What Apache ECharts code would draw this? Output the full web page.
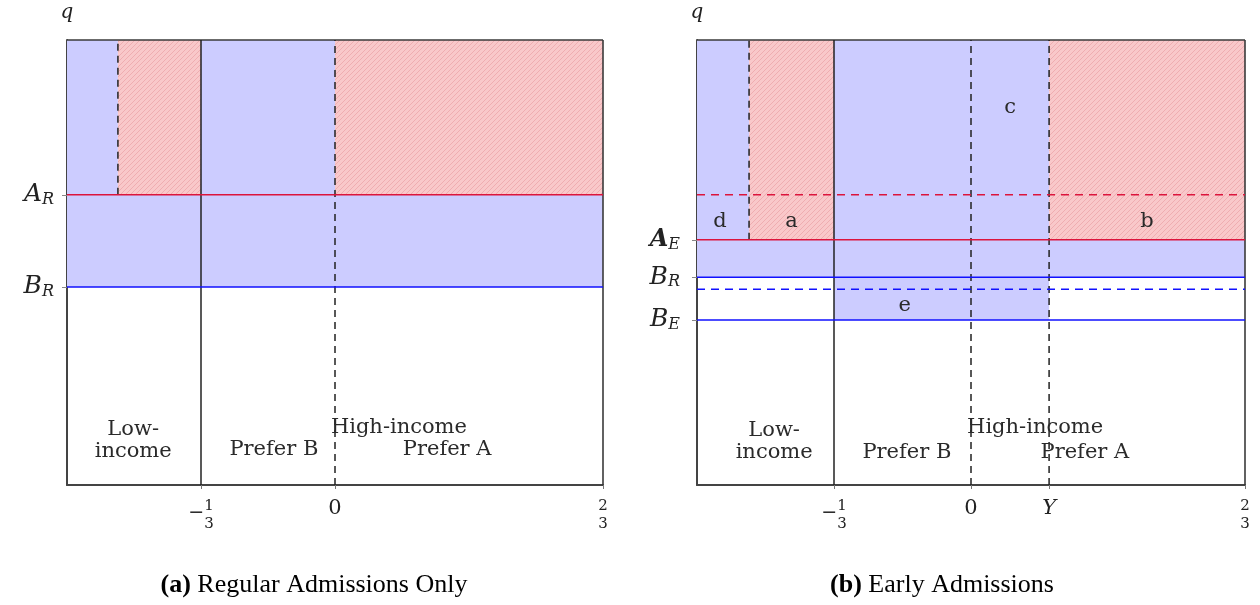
<!DOCTYPE html>
<html lang="en" style="height: 100%">
<head>
    <meta charset="utf-8">
    <script type="text/javascript" src="https://cdn.jsdelivr.net/npm/echarts@6/dist/echarts.min.js"></script>
</head>
<body style="height: 100%; margin: 0">
    <div id="main" style="width: 1260px; height: 605px"></div>
    <script type="text/javascript">
        // shared ranges
        var xRange = [-2 / 3, 2 / 3];
        var yRange = [0, 1];
        var lowCut = -0.54;      // dashed split inside low-income band

        // ---- panel (a) regular admissions ----
        var xTicksA = [-1 / 3, 0, 2 / 3];
        var xTickTextA = ['-1/3', '0', '2/3'];
        var yTicksA = [0.652, 0.445];
        var yTickTextA = ['A_R', 'B_R'];
        // x0, x1, y0, y1, kind (0 = blue, 1 = red hatch)
        var rectsA = [
            [-2 / 3, lowCut, 0.652, 1, 0],
            [lowCut, -1 / 3, 0.652, 1, 1],
            [-1 / 3, 0, 0.652, 1, 0],
            [0, 2 / 3, 0.652, 1, 1],
            [-2 / 3, 2 / 3, 0.445, 0.652, 0]
        ];
        // x0, y0, x1, y1, kind
        var linesA = [
            [-2 / 3, 1, 2 / 3, 1, 'frame'],
            [2 / 3, 0, 2 / 3, 1, 'frame'],
            [-1 / 3, 0, -1 / 3, 1, 'black'],
            [lowCut, 0.652, lowCut, 1, 'blackDash'],
            [0, 0, 0, 1, 'blackDash'],
            [-2 / 3, 0.652, 2 / 3, 0.652, 'red'],
            [-2 / 3, 0.445, 2 / 3, 0.445, 'blue']
        ];
        var textsA = [
            [-0.502, 0.099, 'Low-\nincome'],
            [-0.152, 0.079, 'Prefer B'],
            [0.159, 0.130, 'High-income'],
            [0.279, 0.079, 'Prefer A']
        ];

        // ---- panel (b) early admissions ----
        var yVal = 0.19;
        var xTicksB = [-1 / 3, 0, yVal, 2 / 3];
        var xTickTextB = ['-1/3', '0', 'Y', '2/3'];
        var yTicksB = [0.551, 0.467, 0.371];
        var yTickTextB = ['A_E', 'B_R', 'B_E'];
        var yTickBoldB = [true, false, false];
        var rectsB = [
            [-2 / 3, lowCut, 0.551, 1, 0],
            [lowCut, -1 / 3, 0.551, 1, 1],
            [-1 / 3, yVal, 0.551, 1, 0],
            [yVal, 2 / 3, 0.551, 1, 1],
            [-2 / 3, 2 / 3, 0.467, 0.551, 0],
            [-1 / 3, yVal, 0.371, 0.467, 0]
        ];
        var linesB = [
            [-2 / 3, 1, 2 / 3, 1, 'frame'],
            [2 / 3, 0, 2 / 3, 1, 'frame'],
            [-1 / 3, 0, -1 / 3, 1, 'black'],
            [lowCut, 0.551, lowCut, 1, 'blackDash'],
            [0, 0, 0, 1, 'blackDash'],
            [yVal, 0, yVal, 1, 'blackDash'],
            [-2 / 3, 0.652, 2 / 3, 0.652, 'redDash'],
            [-2 / 3, 0.551, 2 / 3, 0.551, 'red'],
            [-2 / 3, 0.467, 2 / 3, 0.467, 'blue'],
            [-2 / 3, 0.440, 2 / 3, 0.440, 'blueDash'],
            [-2 / 3, 0.371, 2 / 3, 0.371, 'blue']
        ];
        var textsB = [
            [-0.437, 0.591, 'a'],
            [0.428, 0.591, 'b'],
            [0.095, 0.849, 'c'],
            [-0.611, 0.591, 'd'],
            [-0.161, 0.404, 'e'],
            [-0.479, 0.097, 'Low-\nincome'],
            [-0.156, 0.072, 'Prefer B'],
            [0.156, 0.128, 'High-income'],
            [0.277, 0.072, 'Prefer A']
        ];

        var serif = '"DejaVu Serif", serif';
        var blueFill = '#ccccff';

        // diagonal hatch for the red areas
        var hatch = document.createElement('canvas');
        hatch.width = 5;
        hatch.height = 5;
        var hctx = hatch.getContext('2d');
        hctx.fillStyle = '#f9c8ca';
        hctx.fillRect(0, 0, 5, 5);
        hctx.strokeStyle = '#efadb1';
        hctx.lineWidth = 1;
        hctx.beginPath();
        hctx.moveTo(-1, 6); hctx.lineTo(6, -1);
        hctx.moveTo(-1, 1); hctx.lineTo(1, -1);
        hctx.moveTo(4, 6); hctx.lineTo(6, 4);
        hctx.stroke();
        var redFill = { image: hatch, repeat: 'repeat' };

        var lineStyles = {
            frame: { stroke: '#3a3a3a', lineWidth: 1.6 },
            black: { stroke: '#222', lineWidth: 1.5 },
            blackDash: { stroke: '#222', lineWidth: 1.5, lineDash: [7, 5] },
            red: { stroke: '#dc143c', lineWidth: 1.5 },
            redDash: { stroke: '#dc143c', lineWidth: 1.5, lineDash: [8, 6] },
            blue: { stroke: '#1010ff', lineWidth: 1.5 },
            blueDash: { stroke: '#1010ff', lineWidth: 1.5, lineDash: [8, 6] }
        };

        function nearest(list, v) {
            var best = 0;
            for (var i = 1; i < list.length; i++) {
                if (Math.abs(list[i] - v) < Math.abs(list[best] - v)) best = i;
            }
            return best;
        }

        function xTickLabel(txt) {
            if (txt.indexOf('/') >= 0) {
                var neg = txt.charAt(0) === '-';
                var parts = txt.replace('-', '').split('/');
                if (neg) {
                    return '{neg|−}{num|' + parts[0] + '}\n{negh|−}{num|' + parts[1] + '}';
                }
                return '{num|' + parts[0] + '}\n{num|' + parts[1] + '}';
            }
            if (/^[A-Za-z]$/.test(txt)) return '{it|' + txt + '}';
            return '{big|' + txt + '}';
        }

        function yTickLabel(txt, bold) {
            var p = txt.split('_');
            return '{' + (bold ? 'mb' : 'm') + '|' + p[0] + '}{s|' + p[1] + '}';
        }

        function xAxisFor(gridIndex, ticks, texts) {
            return {
                type: 'value', gridIndex: gridIndex,
                min: xRange[0], max: xRange[1],
                splitLine: { show: false },
                axisLine: { onZero: false, lineStyle: { color: '#444', width: 2 } },
                axisTick: { customValues: ticks, length: 4, lineStyle: { color: '#777' } },
                axisLabel: {
                    customValues: ticks, margin: 12, color: '#222',
                    formatter: function (v) { return xTickLabel(texts[nearest(ticks, v)]); },
                    rich: {
                        num: { fontFamily: serif, fontSize: 15, lineHeight: 18, color: '#222' },
                        neg: { fontFamily: serif, fontSize: 19, lineHeight: 2, padding: [15, 0, 0, 0], color: '#222' },
                        negh: { fontFamily: serif, fontSize: 19, lineHeight: 2, color: 'rgba(0,0,0,0)' },
                        big: { fontFamily: serif, fontSize: 21, lineHeight: 24, color: '#222' },
                        it: { fontFamily: serif, fontStyle: 'italic', fontSize: 21, lineHeight: 24, color: '#222' }
                    }
                }
            };
        }

        function yAxisFor(gridIndex, ticks, texts, bolds, margin) {
            return {
                type: 'value', gridIndex: gridIndex,
                min: yRange[0], max: yRange[1],
                name: 'q', nameLocation: 'end', nameGap: 17,
                nameTextStyle: { fontFamily: serif, fontStyle: 'italic', fontSize: 20, color: '#222' },
                splitLine: { show: false },
                axisLine: { onZero: false, lineStyle: { color: '#444', width: 2 } },
                axisTick: { customValues: ticks, length: 5, lineStyle: { color: '#888' } },
                axisLabel: {
                    customValues: ticks, margin: margin,
                    formatter: function (v) {
                        var i = nearest(ticks, v);
                        return yTickLabel(texts[i], bolds && bolds[i]);
                    },
                    rich: {
                        m: { fontFamily: serif, fontStyle: 'italic', fontSize: 25, lineHeight: 26, color: '#222' },
                        mb: { fontFamily: serif, fontStyle: 'italic', fontWeight: 'bold', fontSize: 24, lineHeight: 26, color: '#222' },
                        s: { fontFamily: serif, fontStyle: 'italic', fontSize: 16, lineHeight: 12, verticalAlign: 'bottom', color: '#222' }
                    }
                }
            };
        }

        function rectSeries(idx, rects) {
            return {
                type: 'custom', xAxisIndex: idx, yAxisIndex: idx, silent: true,
                data: rects.map(function (r) { return [r[0], r[1], r[2], r[3], r[4]]; }),
                encode: { x: [0, 1], y: [2, 3] },
                renderItem: function (params, api) {
                    var p0 = api.coord([api.value(0), api.value(3)]);
                    var p1 = api.coord([api.value(1), api.value(2)]);
                    return {
                        type: 'rect',
                        shape: { x: p0[0], y: p0[1], width: p1[0] - p0[0], height: p1[1] - p0[1] },
                        style: { fill: api.value(4) === 1 ? redFill : blueFill }
                    };
                }
            };
        }

        function lineSeries(idx, lines) {
            return {
                type: 'custom', xAxisIndex: idx, yAxisIndex: idx, silent: true, z: 3,
                data: lines.map(function (l) { return [l[0], l[1], l[2], l[3]]; }),
                encode: { x: [0, 2], y: [1, 3] },
                renderItem: function (params, api) {
                    var a = api.coord([api.value(0), api.value(1)]);
                    var b = api.coord([api.value(2), api.value(3)]);
                    var st = lineStyles[lines[params.dataIndex][4]];
                    return {
                        type: 'line',
                        shape: { x1: a[0], y1: a[1], x2: b[0], y2: b[1] },
                        style: Object.assign({ fill: null }, st)
                    };
                }
            };
        }

        function textSeries(idx, texts) {
            return {
                type: 'custom', xAxisIndex: idx, yAxisIndex: idx, silent: true, z: 4,
                data: texts.map(function (t) { return [t[0], t[1]]; }),
                renderItem: function (params, api) {
                    var p = api.coord([api.value(0), api.value(1)]);
                    return {
                        type: 'text', x: p[0], y: p[1],
                        style: {
                            text: texts[params.dataIndex][2],
                            fontFamily: serif, fontSize: 21, lineHeight: 22,
                            fill: '#2a2a2a', align: 'center', verticalAlign: 'middle'
                        }
                    };
                }
            };
        }

        var captionFont = '"Liberation Serif", serif';
        var chart = echarts.init(document.getElementById('main'));
        chart.setOption({
            animation: false,
            grid: [
                { left: 67, top: 40, width: 536, height: 445 },
                { left: 697, top: 40, width: 548, height: 445 }
            ],
            xAxis: [xAxisFor(0, xTicksA, xTickTextA), xAxisFor(1, xTicksB, xTickTextB)],
            yAxis: [yAxisFor(0, yTicksA, yTickTextA, null, 13), yAxisFor(1, yTicksB, yTickTextB, yTickBoldB, 17)],
            series: [
                rectSeries(0, rectsA), lineSeries(0, linesA), textSeries(0, textsA),
                rectSeries(1, rectsB), lineSeries(1, linesB), textSeries(1, textsB)
            ],
            graphic: [
                {
                    type: 'text', x: 314, y: 585,
                    style: {
                        text: '{b|(a)} Regular Admissions Only',
                        fontFamily: captionFont, fontSize: 26, fill: '#000',
                        align: 'center', verticalAlign: 'middle',
                        rich: { b: { fontFamily: captionFont, fontSize: 26, fontWeight: 'bold' } }
                    }
                },
                {
                    type: 'text', x: 942, y: 585,
                    style: {
                        text: '{b|(b)} Early Admissions',
                        fontFamily: captionFont, fontSize: 26, fill: '#000',
                        align: 'center', verticalAlign: 'middle',
                        rich: { b: { fontFamily: captionFont, fontSize: 26, fontWeight: 'bold' } }
                    }
                }
            ]
        });
    </script>
</body>
</html>
